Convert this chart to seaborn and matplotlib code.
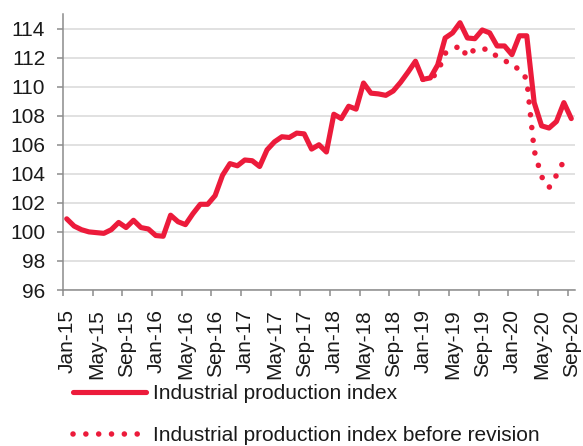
import numpy as np
import pandas as pd
import matplotlib
matplotlib.use('Agg')
import matplotlib.pyplot as plt
import seaborn as sns

# Monthly categories Jan-15 .. Sep-20
months = pd.date_range('2015-01-01', periods=69, freq='MS').strftime('%b-%y').tolist()

# Industrial production index
ipi = [100.9, 100.4, 100.15, 100.0, 99.95, 99.9, 100.15, 100.65, 100.3, 100.8,
       100.3, 100.2, 99.75, 99.7, 101.15, 100.7, 100.5, 101.25, 101.9, 101.9,
       102.5, 103.9, 104.7, 104.55, 104.95, 104.9, 104.5, 105.65, 106.2, 106.55,
       106.5, 106.8, 106.75, 105.7, 106.0, 105.5, 108.1, 107.8, 108.65, 108.45,
       110.25, 109.55, 109.5, 109.4, 109.7, 110.3, 111.0, 111.75, 110.5, 110.6,
       111.5, 113.35, 113.7, 114.4, 113.35, 113.3, 113.9, 113.7, 112.8, 112.8,
       112.2, 113.5, 113.5, 108.9, 107.3, 107.15, 107.6, 108.9, 107.8]

# Index before revision, Jan-19 .. Aug-20
before_months = months[48:68]
ipi_before = [110.5, 110.5, 111.0, 112.3, 112.5, 112.85, 112.05, 112.6, 112.6, 112.55,
              112.05, 111.85, 111.35, 111.25, 110.5, 105.6, 103.8, 103.05, 103.9, 104.9]

labels = ['Industrial production index', 'Industrial production index before revision']
red = '#EC1B3B'

df = pd.DataFrame({'month': months, 'value': ipi})
df['pos'] = np.arange(len(df))
df_b = pd.DataFrame({'month': before_months, 'value': ipi_before})
df_b['pos'] = df_b['month'].map({m: i for i, m in enumerate(months)})

sns.set_theme(style='white')
plt.rcParams['font.family'] = ['Liberation Sans', 'DejaVu Sans']

fig = plt.figure(figsize=(5.83, 4.46), dpi=100)
ax = fig.add_axes([63 / 583, 1 - 290 / 446, 512 / 583, 276 / 446])

sns.lineplot(x='pos', y='value', data=df_b, ax=ax, color=red, linewidth=4.0,
             linestyle=(0, (0.01, 2.3)), dash_capstyle='round', label=labels[1])
sns.lineplot(x='pos', y='value', data=df, ax=ax, color=red, linewidth=3.7,
             solid_capstyle='round', solid_joinstyle='round', label=labels[0])

ax.set_xlim(-0.5, len(months) - 0.5)
ax.set_ylim(96, 115)
ax.set_yticks(np.arange(96, 115, 2))
ax.set_xticks(np.arange(0, len(months), 4))
ax.set_xticklabels(months[::4], rotation=90)
ax.set_xticks(np.arange(-0.5, len(months), 4), minor=True)
ax.set_xlabel('')
ax.set_ylabel('')

ax.grid(axis='y', color='#d9d9d9', linewidth=1.1)
ax.set_axisbelow(True)
for side in ['top', 'right']:
    ax.spines[side].set_visible(False)
for side in ['left', 'bottom']:
    ax.spines[side].set_color('#8c8c8c')
    ax.spines[side].set_linewidth(1.1)

ax.tick_params(axis='y', which='major', direction='out', length=4.3, width=1.1,
               color='#8c8c8c', labelsize=15, pad=8.5, left=True, labelcolor='#1a1a1a')
ax.tick_params(axis='x', which='major', length=0, labelsize=15, pad=14, labelcolor='#1a1a1a')
ax.tick_params(axis='x', which='minor', direction='out', length=4.3, width=1.1,
               color='#8c8c8c', bottom=True)

handles, lbls = ax.get_legend_handles_labels()
ax.get_legend().remove()
order = [lbls.index(labels[0]), lbls.index(labels[1])]
fig.legend([handles[i] for i in order], [lbls[i] for i in order],
           loc='upper left', bbox_to_anchor=(73 / 583, 1 - 384 / 446),
           frameon=False, fontsize=15, handlelength=3.5, handletextpad=0.35,
           labelspacing=1.1, borderpad=0, borderaxespad=0, labelcolor='#1a1a1a')

fig.savefig('out.png', dpi=100)
